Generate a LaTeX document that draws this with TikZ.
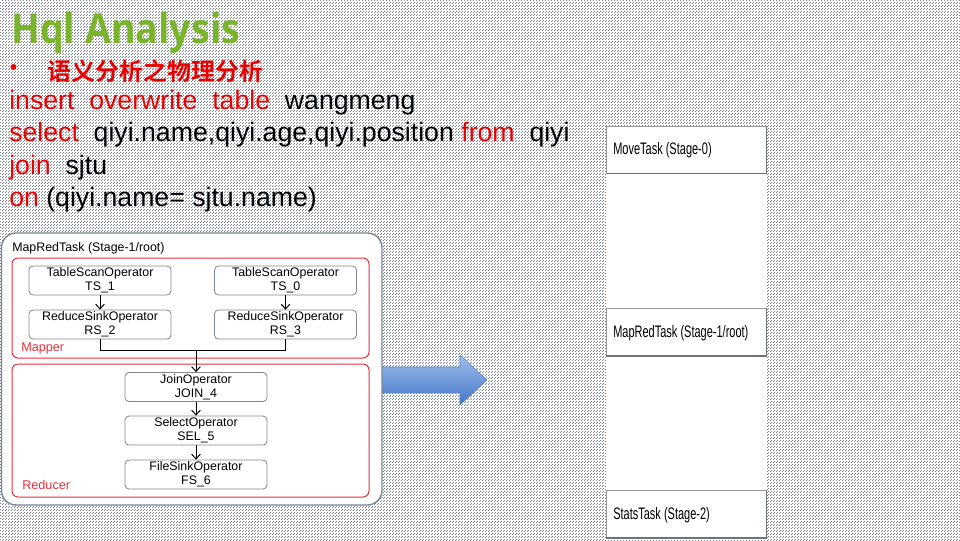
\documentclass[tikz,border=0pt]{standalone}
\usepackage{fontspec}
\usepackage{graphicx}
\usetikzlibrary{arrows.meta,patterns.meta}
\setmainfont{Liberation Sans}
\newfontfamily\titlefont{Open Sans}
\newfontfamily\cjk{Noto Sans CJK SC}[BoldFont=* Bold]

\definecolor{titlegreen}{RGB}{122,180,42}
\definecolor{kwred}{RGB}{235,0,0}
\definecolor{opgrey}{RGB}{128,134,140}
\definecolor{outerline}{RGB}{118,132,148}
\definecolor{stagered}{RGB}{232,48,60}
\definecolor{dotgrey}{RGB}{120,130,145}
\definecolor{arrowtop}{RGB}{160,192,238}
\definecolor{arrowbot}{RGB}{66,116,198}
\definecolor{arrowedge}{RGB}{96,136,204}
\definecolor{taskgrey}{RGB}{150,155,160}
\definecolor{taskshadow}{RGB}{110,115,120}

\newcommand\sqlkw[1]{\textcolor{kwred}{#1}}

% fine dotted slide background
\tikzdeclarepattern{
  name=slidedots,
  type=uncolored,
  bottom left={(0pt,0pt)},
  top right={(2.25pt,2.25pt)},
  tile size={(2.25pt,2.25pt)},
  code={
    \pgfpathrectangle{\pgfpointorigin}{\pgfpoint{0.75pt}{0.75pt}}
    \pgfpathrectangle{\pgfpoint{1.125pt}{1.125pt}}{\pgfpoint{0.75pt}{0.75pt}}
    \pgfusepath{fill}
  }
}

\tikzset{
  opbox/.style={draw=opgrey, fill=white, rounded corners=3pt, line width=0.6pt,
    align=center, minimum width=106.5pt, minimum height=21.75pt, inner sep=0pt,
    font=\fontsize{9.3}{10.5}\selectfont},
  stagebox/.style={draw=stagered, line width=0.75pt, rounded corners=4.5pt},
  stagelabel/.style={anchor=west, inner sep=0pt, text=stagered, font=\fontsize{9.5}{11}\selectfont},
  flow/.style={line width=0.75pt, -{Straight Barb[length=3.5pt,width=6.5pt]}},
  wire/.style={line width=0.75pt},
  codeline/.style={anchor=base west, inner sep=0pt, font=\fontsize{20}{24}\selectfont},
  taskbox/.style={draw=taskgrey, fill=white, line width=0.7pt, minimum width=120pt,
    minimum height=35.25pt, inner sep=0pt},
  taskedge/.style={draw=taskshadow, line width=0.9pt},
  tasklabel/.style={anchor=west, inner sep=0pt, font=\fontsize{12.5}{14}\selectfont},
}

\begin{document}
\begin{tikzpicture}[x=0.75pt, y=-0.75pt]
% background
\fill[white] (0,0) rectangle (960,540);
\fill[pattern=slidedots, pattern color=dotgrey] (0,0) rectangle (960,540);
\useasboundingbox (0,0) rectangle (960,540);

% heading
\node[anchor=base west, inner sep=0pt, text=titlegreen,
  font=\titlefont\bfseries\fontsize{31}{36}\selectfont] (title) at (11,43) {\scalebox{0.91}[1]{Hql Analysis}};
\node[inner sep=0pt, text=kwred, font=\fontsize{16}{18}\selectfont] (bullet) at (13.5,70) {•};
\node[anchor=base west, inner sep=0pt, text=kwred,
  font=\cjk\bfseries\fontsize{18}{22}\selectfont] (subtitle) at (47,80) {语义分析之物理分析};

% query
\node[codeline] (q1) at (9,109) {\sqlkw{insert}~~\sqlkw{overwrite}~~\sqlkw{table}~~wangmeng};
\node[codeline] (q2) at (9,141) {\sqlkw{select}~~qiyi.name,qiyi.age,qiyi.position \sqlkw{from}~~qiyi};
\node[codeline] (q3) at (9,174) {\sqlkw{join}~~sjtu};
\node[codeline] (q4) at (9,206) {\sqlkw{on} (qiyi.name= sjtu.name)};

% big arrow
\shade[top color=arrowtop, bottom color=arrowbot, draw=arrowedge, line width=0.4pt]
  (380,367) -- (460,367) -- (460,355) -- (487,380) -- (460,405) -- (460,393) -- (380,393) -- cycle;

% operator plan
\draw[outerline, fill=white, line width=1pt, rounded corners=11pt] (1.5,233) rectangle (382,505);
\node[anchor=west, inner sep=0pt, font=\fontsize{9.3}{11}\selectfont] (plan) at (12,248) {MapRedTask (Stage-1/root)};
\draw[stagebox] (12,258) rectangle (369,358);
\draw[stagebox] (12,364) rectangle (369,497);
\node[stagelabel] (mapper) at (21,348) {Mapper};
\node[stagelabel] (reducer) at (22,485) {Reducer};

\node[opbox] (ts1) at (100,280.5) {TableScanOperator\\TS\_1};
\node[opbox] (ts0) at (285.5,280.5) {TableScanOperator\\TS\_0};
\node[opbox] (rs2) at (100,324.5) {ReduceSinkOperator\\RS\_2};
\node[opbox] (rs3) at (285.5,324.5) {ReduceSinkOperator\\RS\_3};
\node[opbox] (join) at (196,387) {JoinOperator\\JOIN\_4};
\node[opbox] (sel) at (196,430.5) {SelectOperator\\SEL\_5};
\node[opbox] (fs) at (196,474.5) {FileSinkOperator\\FS\_6};

\draw[flow] (ts1) -- (rs2);
\draw[flow] (ts0) -- (rs3);
\coordinate (merge) at (196,350.5);
\draw[wire] (rs2.south) |- (merge);
\draw[wire] (rs3.south) |- (merge);
\draw[flow] (merge) -- (join.north);
\draw[flow] (join) -- (sel);
\draw[flow] (sel) -- (fs);

% stage column
\fill[white] (606,126) rectangle (767,540);
\node[taskbox] (stage0) at (686,149.5) {};
\node[taskbox] (stage1) at (686,332) {};
\node[taskbox] (stage2) at (686,514) {};
\foreach \s in {stage0,stage1,stage2}
  \draw[taskedge] (\s.south west) -- (\s.south east) -- (\s.north east);
\node[tasklabel] (stage0t) at (613,150) {\scalebox{0.66}[1]{MoveTask (Stage-0)}};
\node[tasklabel] (stage1t) at (613,333) {\scalebox{0.66}[1]{MapRedTask (Stage-1/root)}};
\node[tasklabel] (stage2t) at (613,515) {\scalebox{0.66}[1]{StatsTask (Stage-2)}};
\end{tikzpicture}
\end{document}
